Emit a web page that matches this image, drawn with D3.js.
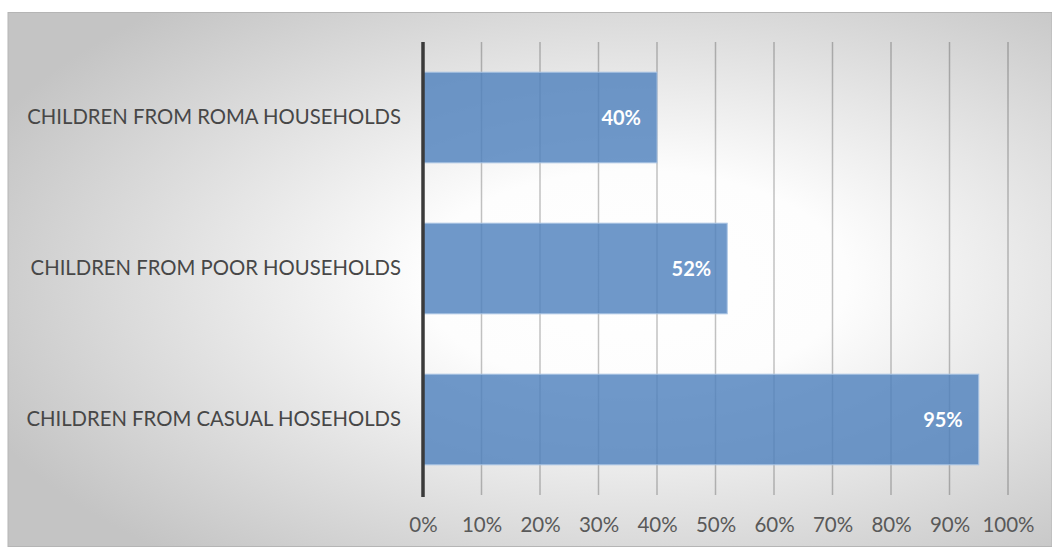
<!DOCTYPE html>
<html>
<head>
<meta charset="utf-8">
<script src="https://cdn.jsdelivr.net/npm/d3@7"></script>
<style>
  html, body { margin: 0; padding: 0; background: #ffffff; }
  svg { display: block; }
</style>
</head>
<body>
<svg id="chart" width="1052" height="549"></svg>
<script>
// Share of children, by household group
const categories = [
  "CHILDREN FROM ROMA HOUSEHOLDS",
  "CHILDREN FROM POOR HOUSEHOLDS",
  "CHILDREN FROM CASUAL HOSEHOLDS"
];
const values = [40, 52, 95];
const tickValues = [0, 10, 20, 30, 40, 50, 60, 70, 80, 90, 100];
const tickLabels = ["0%", "10%", "20%", "30%", "40%", "50%", "60%", "70%", "80%", "90%", "100%"];

const svg = d3.select("#chart");
const W = 1052, H = 549;

// Chart area background: radial grey-to-white gradient
const defs = svg.append("defs");
const grad = defs.append("radialGradient")
  .attr("id", "bg")
  .attr("cx", 0.6).attr("cy", 0.5).attr("r", 0.68)
  .attr("fx", 0.6).attr("fy", 0.5);
grad.append("stop").attr("offset", "0%").attr("stop-color", "#ffffff");
grad.append("stop").attr("offset", "30%").attr("stop-color", "#fdfdfd");
grad.append("stop").attr("offset", "100%").attr("stop-color", "#c4c4c4");

svg.append("rect")
  .attr("x", 8).attr("y", 12.5)
  .attr("width", W - 8).attr("height", 534)
  .attr("fill", "url(#bg)")
  .attr("stroke", "#b5b5b5")
  .attr("stroke-width", 1);

const margin = { left: 423, right: 44, top: 42, bottom: 54 };
const x = d3.scaleLinear().domain([0, 100]).range([margin.left, 1008]);
const y = d3.scaleBand()
  .domain(categories)
  .range([margin.top, H - margin.bottom])
  .paddingInner(0.4)
  .paddingOuter(0.2);

const font = "Lato, 'Open Sans', sans-serif";

// Vertical gridlines
svg.append("g")
  .selectAll("line")
  .data(tickValues.slice(1))
  .join("line")
  .attr("x1", d => x(d)).attr("x2", d => x(d))
  .attr("y1", margin.top).attr("y2", H - margin.bottom)
  .attr("stroke", "rgba(0,0,0,0.24)")
  .attr("stroke-width", 1.5);

// Bars
svg.append("g")
  .selectAll("rect")
  .data(values)
  .join("rect")
  .attr("x", x(0))
  .attr("y", (d, i) => y(categories[i]))
  .attr("width", d => x(d) - x(0))
  .attr("height", y.bandwidth())
  .attr("fill", "#4f81bd")
  .attr("fill-opacity", 0.82)
  .attr("stroke", "#a9c3e3")
  .attr("stroke-width", 1);

// Value labels inside bar ends
svg.append("g")
  .selectAll("text")
  .data(values)
  .join("text")
  .attr("x", d => x(d) - 16)
  .attr("y", (d, i) => y(categories[i]) + y.bandwidth() / 2)
  .attr("dy", "0.35em")
  .attr("text-anchor", "end")
  .attr("fill", "#ffffff")
  .attr("font-family", font)
  .attr("font-weight", "bold")
  .attr("font-size", 20)
  .text(d => d + "%");

// Bottom axis tick labels
const xAxis = d3.axisBottom(x)
  .tickValues(tickValues)
  .tickFormat((d, i) => tickLabels[i])
  .tickSize(0)
  .tickPadding(22);
const gx = svg.append("g")
  .attr("transform", `translate(0,${H - margin.bottom})`)
  .call(xAxis);
gx.select(".domain").remove();
gx.selectAll("text")
  .attr("fill", "#595959")
  .attr("font-family", font)
  .attr("font-size", 20.5);

// Left category axis
const yAxis = d3.axisLeft(y).tickSize(0).tickPadding(22);
const gy = svg.append("g")
  .attr("transform", `translate(${margin.left},0)`)
  .call(yAxis);
gy.select(".domain").remove();
gy.selectAll("text")
  .attr("fill", "#474747")
  .attr("font-family", font)
  .attr("font-size", 20.3);

// Axis baseline
svg.append("line")
  .attr("x1", x(0)).attr("x2", x(0))
  .attr("y1", margin.top).attr("y2", H - margin.bottom + 2)
  .attr("stroke", "#3a3a3a")
  .attr("stroke-width", 3.5);
</script>
</body>
</html>
